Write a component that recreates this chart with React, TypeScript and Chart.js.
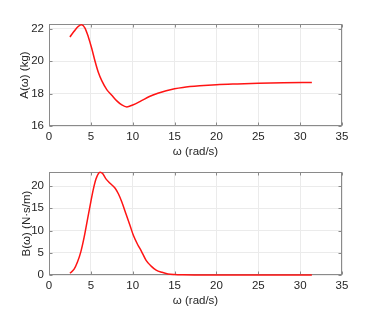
import React, { useEffect, useRef } from "react";
import { Chart, registerables } from "chart.js";

Chart.register(...registerables);

// ---- data ----
const omegaA = [2.5, 3.0, 3.5, 3.9, 4.3, 4.7, 5.1, 5.5, 5.9, 6.3, 6.9, 7.5, 8.1, 8.7, 9.3, 10.0, 11.0, 12.0, 13.0, 14.0, 15.0, 16.0, 18.0, 20.0, 22.5, 25.0, 28.0, 31.4];
const addedMass = [21.5, 21.85, 22.15, 22.25, 22.05, 21.5, 20.8, 20.0, 19.3, 18.8, 18.25, 17.9, 17.55, 17.3, 17.18, 17.3, 17.55, 17.82, 18.02, 18.18, 18.3, 18.38, 18.48, 18.55, 18.6, 18.64, 18.67, 18.69];

const omegaB = [2.5, 3.0, 3.4, 3.8, 4.2, 4.6, 5.0, 5.3, 5.6, 5.9, 6.1, 6.4, 6.8, 7.3, 7.9, 8.3, 8.7, 9.2, 9.7, 10.1, 10.6, 11.0, 11.6, 12.2, 12.8, 13.5, 14.2, 15.0, 16.0, 18.0, 20.0, 25.0, 31.4];
const damping = [0.4, 1.3, 2.9, 5.2, 8.5, 12.5, 16.5, 19.3, 21.5, 22.8, 23.1, 22.8, 21.6, 20.6, 19.5, 18.2, 16.4, 13.7, 11.0, 8.8, 6.8, 5.5, 3.3, 2.0, 1.1, 0.6, 0.25, 0.1, 0.03, 0, 0, 0, 0];

const xTicks = [0, 5, 10, 15, 20, 25, 30, 35];
const aTicks = [16, 18, 20, 22];
const bTicks = [0, 5, 10, 15, 20];

const TEXT = "#262626";
const BOX = "#8a8a8a";
const GRID = "#ebebeb";
const FONT = "'Liberation Sans', Arial, Helvetica, sans-serif";

const boxPlugin = {
  id: "matlabBox",
  beforeDatasetsDraw(chart: any) {
    const { ctx, chartArea, scales } = chart;
    const l = Math.round(chartArea.left) + 0.5;
    const r = Math.round(chartArea.right) - 0.5;
    const t = Math.round(chartArea.top) + 0.5;
    const b = Math.round(chartArea.bottom) - 0.5;
    ctx.save();
    ctx.strokeStyle = BOX;
    ctx.lineWidth = 1;
    ctx.beginPath();
    const tl = 3;
    scales.x.ticks.forEach((tk: any) => {
      const px = Math.round(scales.x.getPixelForValue(tk.value)) + 0.5;
      ctx.moveTo(px, b);
      ctx.lineTo(px, b - tl);
      ctx.moveTo(px, t);
      ctx.lineTo(px, t + tl);
    });
    scales.y.ticks.forEach((tk: any) => {
      const py = Math.round(scales.y.getPixelForValue(tk.value)) + 0.5;
      ctx.moveTo(l, py);
      ctx.lineTo(l + tl, py);
      ctx.moveTo(r, py);
      ctx.lineTo(r - tl, py);
    });
    ctx.stroke();
    ctx.strokeRect(l, t, r - l, b - t);
    ctx.restore();
  },
};

type PanelProps = {
  xs: number[];
  ys: number[];
  yMin: number;
  yMax: number;
  yTicks: number[];
  yLabel: string;
  height: number;
  padTop: number;
  xAxisHeight: number;
  xTitlePad: number;
  yTitlePad: number;
};

function Panel(p: PanelProps) {
  const ref = useRef<HTMLCanvasElement | null>(null);
  useEffect(() => {
    if (!ref.current) return;
    const chart = new Chart(ref.current, {
      type: "line",
      data: {
        datasets: [
          {
            data: p.xs.map((x, i) => ({ x, y: p.ys[i] })),
            borderColor: "#ff1414",
            borderWidth: 1.5,
            pointRadius: 0,
            fill: false,
            clip: 4,
            cubicInterpolationMode: "monotone",
          },
        ],
      },
      options: {
        responsive: false,
        animation: false,
        layout: { padding: { left: 0, right: 36, top: p.padTop, bottom: 0 } },
        plugins: { legend: { display: false }, tooltip: { enabled: false } },
        scales: {
          x: {
            type: "linear",
            min: 0,
            max: 35,
            afterBuildTicks: (s: any) => {
              s.ticks = xTicks.map((v) => ({ value: v }));
            },
            afterFit: (s: any) => {
              s.height = p.xAxisHeight;
            },
            grid: { color: GRID, drawTicks: false },
            border: { display: false },
            ticks: { padding: 4, color: TEXT, font: { family: FONT, size: 11.5 }, maxRotation: 0 },
            title: {
              display: true,
              text: "ω (rad/s)",
              color: TEXT,
              font: { family: FONT, size: 11.5 },
              padding: { top: 0, bottom: p.xTitlePad },
            },
          },
          y: {
            type: "linear",
            min: p.yMin,
            max: p.yMax,
            afterBuildTicks: (s: any) => {
              s.ticks = p.yTicks.map((v) => ({ value: v }));
            },
            afterFit: (s: any) => {
              s.width = 49;
            },
            grid: { color: GRID, drawTicks: false },
            border: { display: false },
            ticks: { padding: 5, color: TEXT, font: { family: FONT, size: 11.5 } },
            title: {
              display: true,
              text: p.yLabel,
              color: TEXT,
              font: { family: FONT, size: 11.5 },
              padding: { top: p.yTitlePad, bottom: 0 },
            },
          },
        },
      },
      plugins: [boxPlugin],
    } as any);
    return () => chart.destroy();
  }, []);
  return <canvas ref={ref} width={378} height={p.height} style={{ display: "block", width: 378, height: p.height }} />;
}

export default function App() {
  return (
    <div style={{ position: "fixed", left: 0, top: 0, width: 378, height: 315, background: "#fff" }}>
      <Panel
        xs={omegaA}
        ys={addedMass}
        yMin={16}
        yMax={22.3}
        yTicks={aTicks}
        yLabel="A(ω) (kg)"
        height={160}
        padTop={24}
        xAxisHeight={34}
        xTitlePad={1.4}
        yTitlePad={18}
      />
      <Panel
        xs={omegaB}
        ys={damping}
        yMin={0}
        yMax={23.15}
        yTicks={bTicks}
        yLabel="B(ω) (N·s/m)"
        height={155}
        padTop={12}
        xAxisHeight={40}
        xTitlePad={7.4}
        yTitlePad={19.5}
      />
    </div>
  );
}
